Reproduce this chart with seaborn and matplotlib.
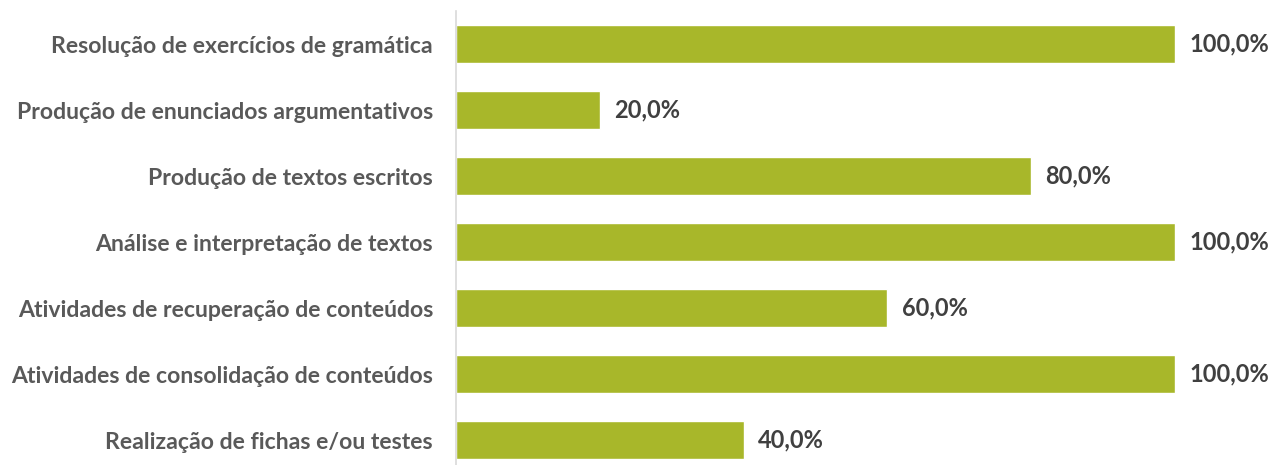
import matplotlib
matplotlib.use("Agg")
import matplotlib.pyplot as plt
import seaborn as sns
import pandas as pd

# data
categories = [
    "Resolução de exercícios de gramática",
    "Produção de enunciados argumentativos",
    "Produção de textos escritos",
    "Análise e interpretação de textos",
    "Atividades de recuperação de conteúdos",
    "Atividades de consolidação de conteúdos",
    "Realização de fichas e/ou testes",
]
values = [100.0, 20.0, 80.0, 100.0, 60.0, 100.0, 40.0]

df = pd.DataFrame({"categoria": categories, "valor": values})

sns.set_style("white")
plt.rcParams["font.family"] = ["Lato", "DejaVu Sans"]

fig = plt.figure(figsize=(12.72, 4.65), dpi=100)
ax = fig.add_axes([456 / 1272, -8 / 465, (1175 - 456) / 1272, 462 / 465])

sns.barplot(data=df, x="valor", y="categoria", color="#A8B72A",
            width=0.57, saturation=1, ax=ax)

ax.set_xlim(0, 100)
ax.set_ylim(6.5, -0.5)
ax.set_xlabel("")
ax.set_ylabel("")
ax.set_xticks([])

for s in ["top", "right", "bottom"]:
    ax.spines[s].set_visible(False)
ax.spines["left"].set_color("#D9D9D9")
ax.spines["left"].set_linewidth(1.2)

ax.tick_params(axis="y", length=0, pad=16.5)
for lbl in ax.get_yticklabels():
    lbl.set_fontsize(16.6)
    lbl.set_fontweight("bold")
    lbl.set_color("#595959")

# value labels next to the bars
for i, v in enumerate(values):
    ax.text(v + 2, i, f"{v:.1f}".replace(".", ",") + "%", va="center", ha="left",
            fontsize=17, fontweight="bold", color="#404040", clip_on=False)

fig.savefig("out.png", dpi=100)
